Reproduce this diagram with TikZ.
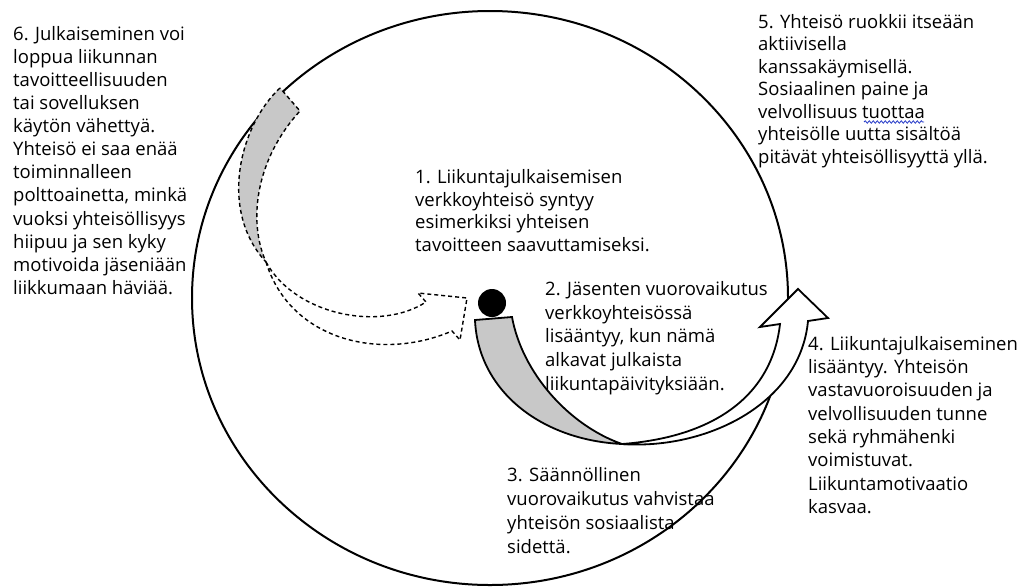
\documentclass[tikz,border=0pt]{standalone}
\usepackage{fontspec}
\setmainfont{Open Sans}
\usetikzlibrary{decorations.pathmorphing}
\definecolor{bandgray}{RGB}{200,200,200}
\definecolor{squig}{RGB}{40,60,200}
\begin{document}
\begin{tikzpicture}[x=1pt,y=-1pt,
  txt/.style={anchor=north west, inner sep=0pt, align=left, font=\fontsize{18.5}{#1}\selectfont},
  ring/.style={line width=2pt, draw=black},
  solidband/.style={line width=1.8pt, draw=black, line join=miter},
  dashband/.style={line width=1.4pt, draw=black, dash pattern=on 4pt off 3pt, line join=miter},
  dotstyle/.style={circle, fill=black, minimum size=28pt, inner sep=0pt}]
\useasboundingbox[fill=white] (0,0) rectangle (1027,587);

% big circle
\draw[ring] (490,298) ellipse [x radius=298pt, y radius=287pt];

% texts
\node[txt=23.1] (t6) at (13,24) {\rule{0pt}{16pt}6. Julkaiseminen voi\\loppua liikunnan\\tavoitteellisuuden\\tai sovelluksen\\käytön vähettyä.\\Yhteisö ei saa enää\\toiminnalleen\\polttoainetta, minkä\\vuoksi yhteisöllisyys\\hiipuu ja sen kyky\\motivoida jäseniään\\liikkumaan häviää.};
\node[txt=22.5] (t5) at (758,12) {\rule{0pt}{16pt}5. Yhteisö ruokkii itseään\\aktiivisella\\kanssakäymisellä.\\Sosiaalinen paine ja\\velvollisuus tuottaa\\yhteisölle uutta sisältöä\\pitävät yhteisöllisyyttä yllä.};
\node[txt=22.8] (t1) at (415,167) {\rule{0pt}{16pt}1. Liikuntajulkaisemisen\\verkkoyhteisö syntyy\\esimerkiksi yhteisen\\tavoitteen saavuttamiseksi.};
\node[txt=23.8] (t2) at (545,279) {\rule{0pt}{16pt}2. Jäsenten vuorovaikutus\\verkkoyhteisössä\\lisääntyy, kun nämä\\alkavat julkaista\\liikuntapäivityksiään.};
\node[txt=23.3] (t4) at (808,334) {\rule{0pt}{16pt}4. Liikuntajulkaiseminen\\lisääntyy. Yhteisön\\vastavuoroisuuden ja\\velvollisuuden tunne\\sekä ryhmähenki\\voimistuvat.\\Liikuntamotivaatio\\kasvaa.};
\node[txt=24] (t3) at (507,465) {\rule{0pt}{16pt}3. Säännöllinen\\vuorovaikutus vahvistaa\\yhteisön sosiaalista\\sidettä.};

% spell-check squiggle under "tuottaa"
\draw[squig, line width=0.8pt, decorate, decoration={snake, amplitude=1.2pt, segment length=4pt}] (864,122) -- (924,122);

% dashed curved arrow (6): back (grey) part
\path[fill=bandgray, dashband] (280,88) .. controls (240,125) and (218,210) .. (266,262)
   .. controls (248,222) and (255,160) .. (300,111) -- cycle;
% dashed curved arrow: front part with head
\path[fill=white, dashband] (266,262) .. controls (295,315) and (380,332) .. (426,302)
   -- (418,293) -- (467,298) -- (460,340) -- (452,331)
   .. controls (380,362) and (290,340) .. (266,262) -- cycle;

% solid curved arrow (2 -> 4): back (grey) part
\path[fill=bandgray, solidband] (475,320) .. controls (478,390) and (540,440) .. (622,444)
   .. controls (568,425) and (522,372) .. (512,317) -- cycle;
% solid curved arrow: front part with head
\path[fill=white, solidband] (622,444) .. controls (705,450) and (800,405) .. (808,321)
   -- (828,318) -- (798,289) -- (760,327) -- (780,324)
   .. controls (772,395) and (715,437) .. (622,444) -- cycle;

% black dot
\node[dotstyle] (dot) at (492,303) {};
\end{tikzpicture}
\end{document}
